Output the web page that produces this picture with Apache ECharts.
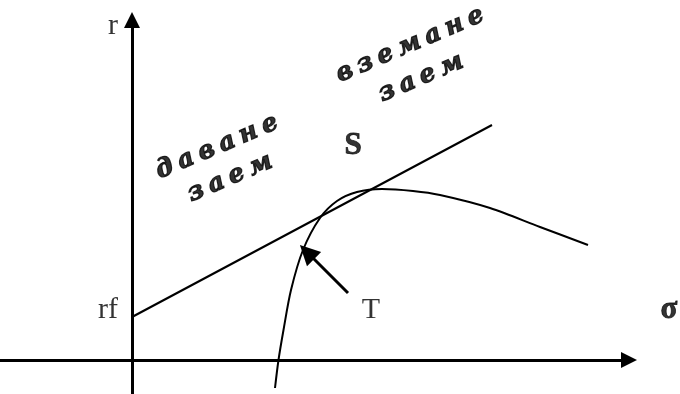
<!DOCTYPE html>
<html>
<head>
<meta charset="utf-8">
<script src="https://cdn.jsdelivr.net/npm/echarts@6/dist/echarts.min.js"></script>
<style>
  html, body { margin: 0; padding: 0; background: #fff; }
  #chart { width: 680px; height: 394px; }
</style>
</head>
<body>
<div id="chart"></div>
<script>
// axes of the diagram (sigma, r), drawn with arrow heads
var xAxisLine = [[-13.2, 0], [49.7, 0]];
var yAxisLine = [[0, -3.4], [0, 34.0]];
// capital market line from rf
var cmlLine = [[0, 4.3], [36, 23.5]];
// efficient frontier
var frontier = [
  [14.3, -2.8], [14.65, 0], [15.15, 3.0], [15.9, 7.0], [17.1, 11.0],
  [18.8, 14.2], [20.5, 15.9], [22.5, 16.8], [25.0, 17.1], [28.1, 16.9],
  [30.8, 16.5], [35.8, 15.2], [40.8, 13.3], [45.6, 11.5]
];
// arrow pointing at T
var tArrow = [[21.6, 6.7], [17.5, 10.8]];

var plainLabels = ['r', 'rf', 'T'];
var plainPos = [[-1.9, 33.4], [-2.4, 5.0], [23.9, 5.0]];
var boldLabels = ['S', 'σ'];
var boldPos = [[22.1, 21.4], [53.7, 5.0]];
var slantLabels = ['даване', 'заем', 'вземане', 'заем'];
var slantPos = [[8.5, 21.3], [9.8, 18.2], [27.8, 31.5], [28.9, 28.2]];

function spaced(s) {
  return s.split('').map(function (c) { return '{c|' + c + '}'; }).join('');
}

var myChart = echarts.init(document.getElementById('chart'));

var option = {
  animation: false,
  grid: { left: 0, right: 0, top: 0, bottom: 0 },
  xAxis: { type: 'value', min: -13.2, max: 54.8, show: false },
  yAxis: { type: 'value', min: -3.4, max: 36, show: false },
  series: [
    {
      type: 'lines',
      coordinateSystem: 'cartesian2d',
      symbol: ['none', 'triangle'],
      symbolSize: [0, 16],
      lineStyle: { color: '#000', width: 3, opacity: 1 },
      data: [{ coords: xAxisLine }, { coords: yAxisLine }],
      silent: true
    },
    {
      type: 'lines',
      coordinateSystem: 'cartesian2d',
      symbol: ['none', 'triangle'],
      symbolSize: [0, 20],
      lineStyle: { color: '#000', width: 3, opacity: 1 },
      data: [{ coords: tArrow }],
      silent: true
    },
    {
      type: 'line',
      data: cmlLine,
      showSymbol: false,
      lineStyle: { color: '#000', width: 2 },
      silent: true
    },
    {
      type: 'line',
      data: frontier,
      smooth: 0.3,
      showSymbol: false,
      lineStyle: { color: '#000', width: 2 },
      silent: true
    },
    {
      type: 'scatter',
      symbolSize: 0,
      data: plainLabels.map(function (t, i) { return { name: t, value: plainPos[i] }; }),
      label: {
        show: true, position: 'inside', formatter: '{b}',
        color: '#000', fontFamily: 'Liberation Serif', fontSize: 30
      },
      silent: true
    },
    {
      type: 'scatter',
      symbolSize: 0,
      data: boldLabels.map(function (t, i) { return { name: t, value: boldPos[i] }; }),
      label: {
        show: true, position: 'inside', formatter: '{b}',
        color: '#000', fontFamily: 'Liberation Serif', fontWeight: 'bold', fontSize: 31,
        textBorderColor: '#000', textBorderWidth: 0.8
      },
      silent: true
    },
    {
      type: 'scatter',
      symbolSize: 0,
      data: slantLabels.map(function (t, i) { return { name: t, value: slantPos[i] }; }),
      label: {
        show: true, position: 'inside', rotate: 23,
        formatter: function (p) { return spaced(p.name); },
        rich: {
          c: {
            color: '#000', fontFamily: 'DejaVu Serif', fontWeight: 'bold',
            fontStyle: 'italic', fontSize: 25, padding: [0, 3],
            textBorderColor: '#000', textBorderWidth: 1.2
          }
        }
      },
      silent: true
    }
  ]
};
myChart.setOption(option);
</script>
</body>
</html>
